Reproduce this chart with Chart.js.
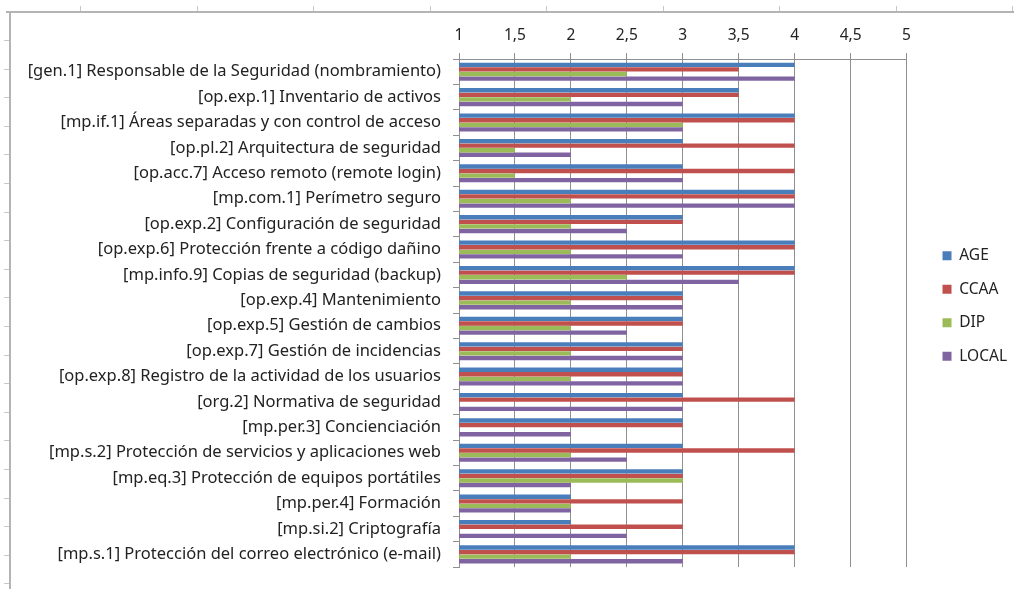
<!DOCTYPE html>
<html>
<head>
<meta charset="utf-8">
<script src="https://cdn.jsdelivr.net/npm/chart.js@4.4.1/dist/chart.umd.min.js"></script>
<style>
  html, body { margin: 0; padding: 0; background: #fff; }
  #wrap { position: relative; width: 1014px; height: 589px; overflow: hidden; }
  .frame-top { position: absolute; left: 6px; top: 11px; width: 1008px; height: 2px; background: #b4b4b4; }
  .frame-left { position: absolute; left: 9px; top: 11px; width: 2px; height: 578px; background: #b4b4b4; }
  .rtick-h { position: absolute; width: 1px; height: 5px; top: 6px; background: #c8c8c8; }
  .rtick-v { position: absolute; width: 5px; height: 1px; left: 4px; background: #c8c8c8; }
  canvas { position: absolute; left: 0; top: 0; }
</style>
</head>
<body>
<div id="wrap">
  <div class="frame-top"></div>
  <div class="frame-left"></div>
  <canvas id="chart" width="1014" height="589"></canvas>
</div>
<script>
const categories = [
  '[gen.1] Responsable de la Seguridad (nombramiento)',
  '[op.exp.1] Inventario de activos',
  '[mp.if.1] Áreas separadas y con control de acceso',
  '[op.pl.2] Arquitectura de seguridad',
  '[op.acc.7] Acceso remoto (remote login)',
  '[mp.com.1] Perímetro seguro',
  '[op.exp.2] Configuración de seguridad',
  '[op.exp.6] Protección frente a código dañino',
  '[mp.info.9] Copias de seguridad (backup)',
  '[op.exp.4] Mantenimiento',
  '[op.exp.5] Gestión de cambios',
  '[op.exp.7] Gestión de incidencias',
  '[op.exp.8] Registro de la actividad de los usuarios',
  '[org.2] Normativa de seguridad',
  '[mp.per.3] Concienciación',
  '[mp.s.2] Protección de servicios y aplicaciones web',
  '[mp.eq.3] Protección de equipos portátiles',
  '[mp.per.4] Formación',
  '[mp.si.2] Criptografía',
  '[mp.s.1] Protección del correo electrónico (e-mail)'
];
const age   = [4, 3.5, 4, 3, 3, 4, 3, 4, 4, 3, 3, 3, 3, 3, 3, 3, 3, 2, 2, 4];
const ccaa  = [3.5, 3.5, 4, 4, 4, 4, 3, 4, 4, 3, 3, 3, 3, 4, 3, 4, 3, 3, 3, 4];
const dip   = [2.5, 2, 3, 1.5, 1.5, 2, 2, 2, 2.5, 2, 2, 2, 2, 1, 1, 2, 3, 2, 1, 2];
const local = [4, 3, 3, 2, 3, 4, 2.5, 3, 3.5, 3, 2.5, 3, 3, 3, 2, 2.5, 2, 2, 2.5, 3];
const xTickLabels = ['1', '1,5', '2', '2,5', '3', '3,5', '4', '4,5', '5'];

// ruler marks of the sheet around the chart (decoration only)
const wrap = document.getElementById('wrap');
for (let x = 80; x < 1014; x += 116.5) {
  const d = document.createElement('div'); d.className = 'rtick-h'; d.style.left = Math.round(x) + 'px'; wrap.appendChild(d);
}
for (let y = 40; y < 589; y += 28.6) {
  const d = document.createElement('div'); d.className = 'rtick-v'; d.style.top = Math.round(y) + 'px'; wrap.appendChild(d);
}

const FONT = 'Noto Sans';
const GRID = '#8f8f8f';

// nudge the legend to where the original sits
const legendShift = {
  id: 'legendShift',
  afterLayout(chart) {
    const l = chart.legend;
    l.left += 18; l.right += 18;
    l.top += 18; l.bottom += 18;
  }
};

new Chart(document.getElementById('chart'), {
  type: 'bar',
  data: {
    labels: categories,
    datasets: [
      { label: 'AGE', data: age, backgroundColor: '#4a7ebb' },
      { label: 'CCAA', data: ccaa, backgroundColor: '#c0504d' },
      { label: 'DIP', data: dip, backgroundColor: '#9bbb59' },
      { label: 'LOCAL', data: local, backgroundColor: '#8064a2' }
    ]
  },
  options: {
    indexAxis: 'y',
    responsive: false,
    animation: false,
    layout: { padding: { left: 0, top: 0, right: 15, bottom: 13 } },
    datasets: { bar: { categoryPercentage: 0.72, barPercentage: 0.95, borderWidth: 0 } },
    plugins: {
      legend: {
        position: 'right',
        labels: { boxWidth: 9, boxHeight: 9, padding: 18, color: '#222', font: { family: FONT, size: 15.5 } }
      },
      tooltip: { enabled: false }
    },
    scales: {
      x: {
        position: 'top', min: 1, max: 5,
        afterFit: s => { s.height = 59; },
        ticks: {
          stepSize: 0.5, padding: 8, color: '#222', font: { family: FONT, size: 15.5 },
          callback: v => xTickLabels[Math.round((v - 1) * 2)]
        },
        grid: { color: GRID, lineWidth: 1, tickLength: 6 },
        border: { color: GRID }
      },
      y: {
        afterFit: s => { s.width = 459; },
        ticks: { padding: 12, color: '#222', font: { family: FONT, size: 16.5 }, autoSkip: false },
        grid: { offset: true, drawOnChartArea: false, color: GRID, tickLength: 6 },
        border: { color: GRID }
      }
    }
  },
  plugins: [legendShift]
});
</script>
</body>
</html>
